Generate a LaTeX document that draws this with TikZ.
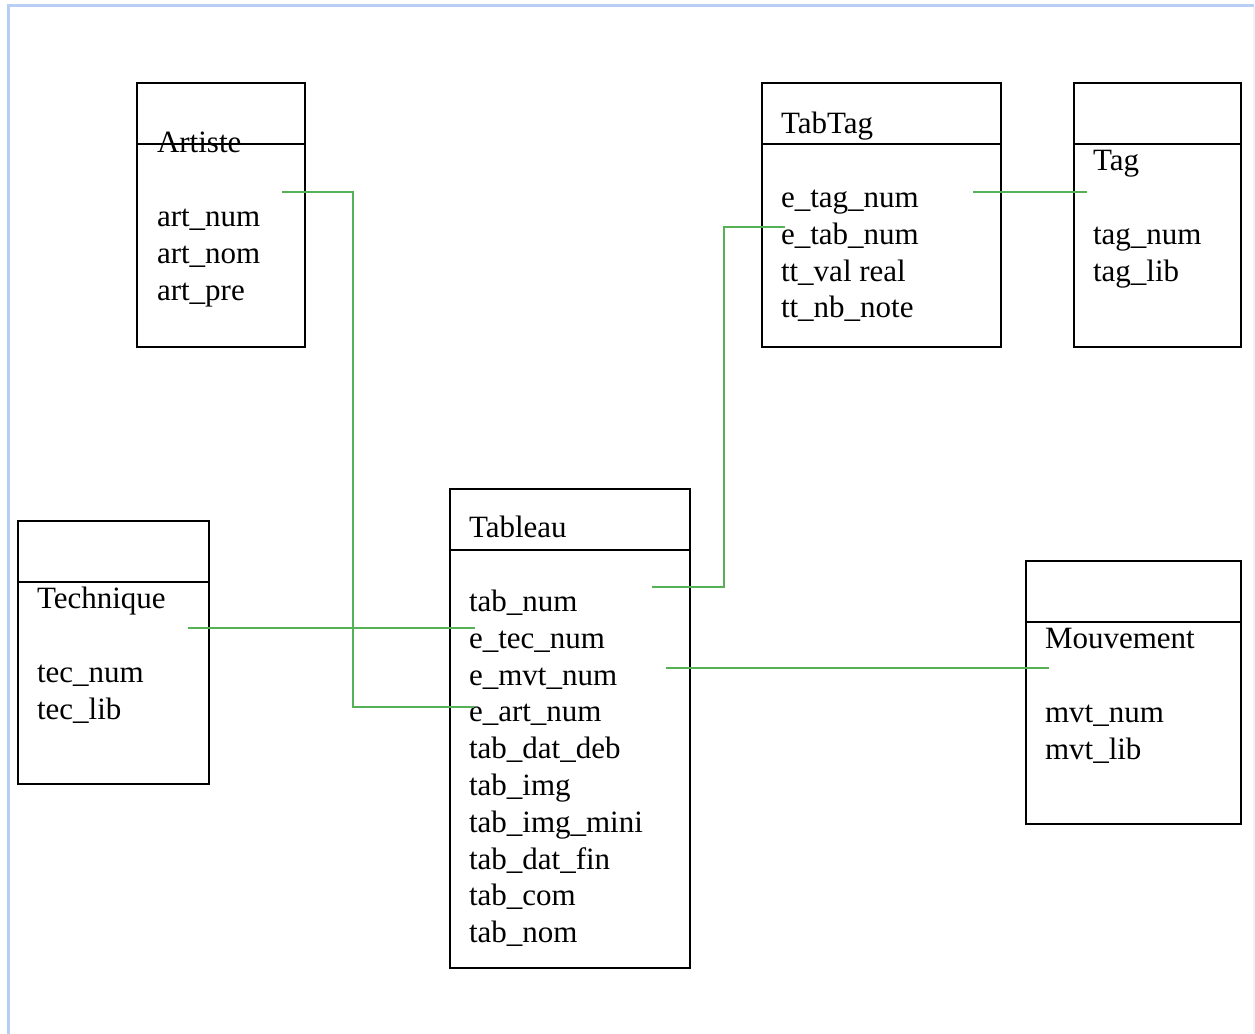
\documentclass[tikz,border=0pt]{standalone}
\usepackage{fontspec}
\setmainfont{Liberation Serif}
\definecolor{lnk}{RGB}{86,176,86}
\definecolor{frm}{RGB}{184,206,245}
\definecolor{frmr}{RGB}{236,241,250}
\tikzset{
  box/.style={draw=black, line width=2pt, anchor=north west, inner sep=0pt, outer sep=0pt},
  sep/.style={draw=black, line width=1.6pt},
  fld/.style={anchor=base west, inner sep=0pt, outer sep=0pt, font=\fontsize{31}{37}\selectfont},
  link/.style={draw=lnk, line width=2pt}
}
\begin{document}
\begin{tikzpicture}[x=1pt,y=-1pt]
\useasboundingbox (0,0) rectangle (1255,1033);
\fill[white] (0,0) rectangle (1255,1033);
% frame
\draw[frm, line width=3pt] (8.5,1040) -- (8.5,5.5) -- (1254,5.5);
\draw[frmr, line width=1.5pt] (1254.2,7) -- (1254.2,1033);

% Artiste
\node[box, minimum width=168pt, minimum height=264pt] (artiste) at (137,83) {};
\draw[sep] (137,144) -- (305,144);
\node[fld] (artiste-t) at (157,152) {Artiste};
\foreach \t [count=\i from 0] in {art\_num, art\_nom, art\_pre}
  \node[fld] (artiste-\i) at (157,226.5+36.8*\i) {\t};

% TabTag
\node[box, minimum width=239pt, minimum height=264pt] (tabtag) at (762,83) {};
\draw[sep] (762,144) -- (1001,144);
\node[fld] (tabtag-t) at (781,133) {TabTag};
\foreach \t [count=\i from 0] in {e\_tag\_num, e\_tab\_num, tt\_val real, tt\_nb\_note}
  \node[fld] (tabtag-\i) at (781,207.5+36.8*\i) {\t};

% Tag
\node[box, minimum width=167pt, minimum height=264pt] (tag) at (1074,83) {};
\draw[sep] (1074,144) -- (1241,144);
\node[fld] (tag-t) at (1093,170) {Tag};
\foreach \t [count=\i from 0] in {tag\_num, tag\_lib}
  \node[fld] (tag-\i) at (1093,244.5+36.8*\i) {\t};

% Tableau
\node[box, minimum width=240pt, minimum height=479pt] (tableau) at (450,489) {};
\draw[sep] (450,550) -- (690,550);
\node[fld] (tableau-t) at (469,537) {Tableau};
\foreach \t [count=\i from 0] in {tab\_num, e\_tec\_num, e\_mvt\_num, e\_art\_num, tab\_dat\_deb, tab\_img, tab\_img\_mini, tab\_dat\_fin, tab\_com, tab\_nom}
  \node[fld] (tableau-\i) at (469,611.5+36.8*\i) {\t};

% Technique
\node[box, minimum width=191pt, minimum height=263pt] (technique) at (18,521) {};
\draw[sep] (18,582) -- (209,582);
\node[fld] (technique-t) at (37,608) {Technique};
\foreach \t [count=\i from 0] in {tec\_num, tec\_lib}
  \node[fld] (technique-\i) at (37,682.5+36.8*\i) {\t};

% Mouvement
\node[box, minimum width=215pt, minimum height=263pt] (mouvement) at (1026,561) {};
\draw[sep] (1026,622) -- (1241,622);
\node[fld] (mouvement-t) at (1045,648) {Mouvement};
\foreach \t [count=\i from 0] in {mvt\_num, mvt\_lib}
  \node[fld] (mouvement-\i) at (1045,722.5+36.8*\i) {\t};

% connector ends
\coordinate (artA) at (282,191.5);
\coordinate (artB) at (474,706.5);
\coordinate (tecA) at (188,628);
\coordinate (tecB) at (475,628);
\coordinate (tabA) at (652,586.5);
\coordinate (ttB) at (785,227);
\coordinate (ttA) at (973,191.5);
\coordinate (tagB) at (1087,191.5);
\coordinate (mvtA) at (666,667.5);
\coordinate (mvtB) at (1049,667.5);

% connectors
\draw[link] (artA) -- (353,191.5) |- (artB);
\draw[link] (tecA) -- (tecB);
\draw[link] (tabA) -- (724,586.5) |- (ttB);
\draw[link] (ttA) -- (tagB);
\draw[link] (mvtA) -- (mvtB);
\end{tikzpicture}
\end{document}
